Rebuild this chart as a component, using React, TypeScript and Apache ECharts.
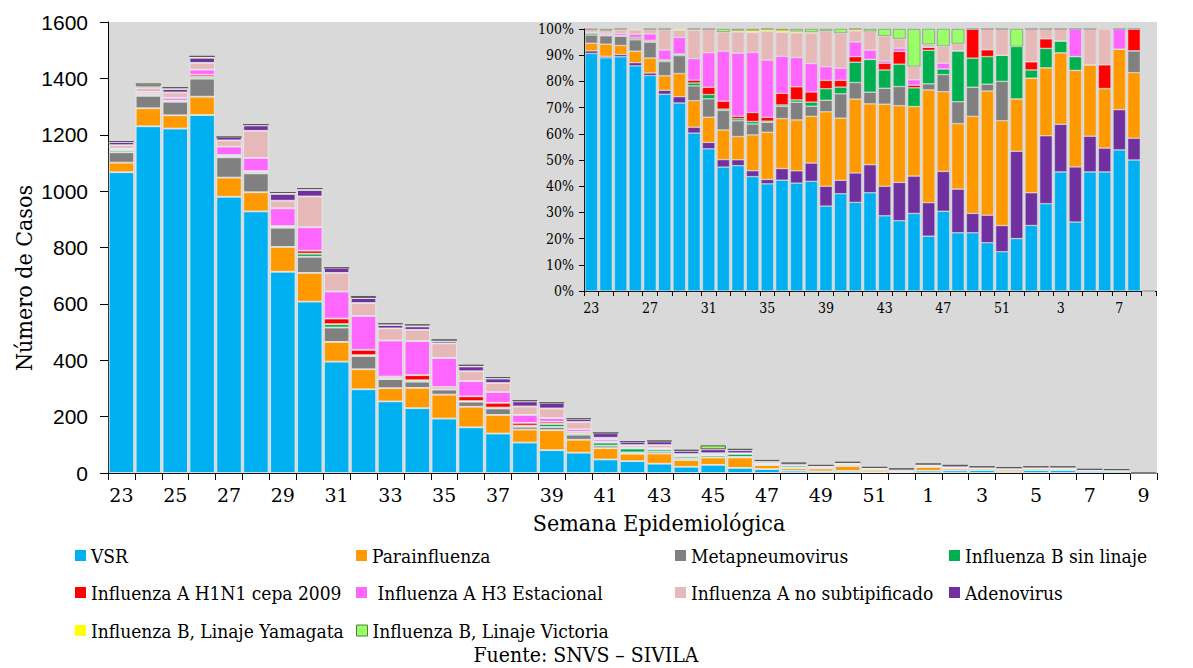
import React, { useEffect, useRef } from "react";
import * as echarts from "echarts";

const weeks = [
  "23", "24", "25", "26", "27", "28", "29", "30", "31", "32", "33", "34", "35", "36", "37",
  "38", "39", "40", "41", "42", "43", "44", "45", "46", "47", "48", "49", "50", "51", "52",
  "1", "2", "3", "4", "5", "6", "7", "8", "9",
];

const vsr = [1067, 1230, 1222, 1270, 980, 928, 714, 608, 395, 297, 254, 230, 193, 162, 140, 108, 81, 72, 48, 42, 33, 22, 29, 18, 14, 8, 6, 7, 3, 3, 8, 9, 10, 5, 10, 10, 7, 6, 0];
const parainfluenza = [34, 64, 47, 65, 68, 68, 88, 102, 70, 71, 47, 72, 85, 73, 66, 46, 71, 46, 40, 26, 36, 24, 26, 37, 14, 9, 10, 18, 8, 3, 14, 7, 6, 7, 6, 5, 3, 3, 0];
const metapneumovirus = [37, 44, 48, 64, 72, 67, 68, 57, 51, 47, 32, 22, 18, 18, 23, 10, 11, 18, 9, 5, 7, 6, 0, 2, 3, 3, 3, 1, 3, 0, 0, 0, 0, 0, 0, 0, 0, 1, 0];
const fluBSinLinaje = [7, 4, 4, 6, 4, 5, 4, 11, 12, 3, 4, 5, 2, 2, 3, 4, 11, 5, 11, 14, 8, 7, 7, 11, 1, 7, 3, 4, 2, 3, 1, 2, 1, 1, 0, 0, 0, 0, 0];
const fluAH1N1 = [4, 4, 0, 8, 4, 3, 2, 11, 20, 19, 5, 18, 7, 17, 17, 10, 8, 5, 3, 0, 3, 4, 1, 1, 0, 0, 3, 1, 0, 0, 1, 1, 0, 0, 0, 2, 0, 1, 0];
const fluAH3 = [2, 6, 10, 18, 30, 47, 63, 83, 96, 120, 128, 121, 103, 54, 38, 28, 13, 9, 8, 4, 1, 1, 2, 0, 1, 0, 0, 0, 0, 0, 0, 0, 0, 2, 0, 0, 1, 0, 0];
const fluANoSubtip = [12, 14, 19, 24, 22, 96, 27, 109, 66, 46, 43, 40, 52, 35, 32, 30, 34, 26, 6, 8, 11, 3, 5, 1, 3, 1, 0, 3, 2, 0, 4, 1, 1, 0, 3, 3, 0, 0, 0];
const adenovirus = [12, 8, 12, 18, 12, 19, 24, 23, 18, 18, 12, 12, 8, 17, 16, 18, 19, 10, 16, 12, 13, 12, 14, 11, 7, 6, 2, 4, 2, 5, 4, 7, 4, 4, 3, 2, 2, 1, 0];
const yamagata = [0, 0, 5, 5, 0, 3, 5, 5, 0, 0, 3, 4, 4, 3, 2, 1, 0, 0, 1, 0, 0, 0, 0, 0, 0, 0, 0, 0, 0, 0, 0, 0, 0, 0, 0, 0, 0, 0, 0];
const victoria = [2, 8, 0, 0, 0, 0, 0, 0, 0, 7, 3, 3, 0, 2, 3, 3, 2, 3, 0, 1, 3, 3, 14, 5, 3, 2, 0, 0, 0, 1, 0, 0, 0, 0, 0, 0, 0, 0, 0];

const seriesNames = [
  "VSR",
  "Parainfluenza",
  "Metapneumovirus",
  "Influenza B sin linaje",
  "Influenza A H1N1 cepa 2009",
  "Influenza A H3 Estacional",
  "Influenza A no subtipificado",
  "Adenovirus",
  "Influenza B, Linaje Yamagata",
  "Influenza B, Linaje Victoria",
];
const seriesValues = [vsr, parainfluenza, metapneumovirus, fluBSinLinaje, fluAH1N1, fluAH3, fluANoSubtip, adenovirus, yamagata, victoria];
const seriesColors = ["#00b0f0", "#ff9900", "#808080", "#00b050", "#ff0000", "#ff66ff", "#e6b9b8", "#7030a0", "#ffff00", "#99ff66"];

// stacking order in the percentage inset (bottom to top)
const insetOrder = [0, 7, 1, 2, 3, 4, 5, 6, 8, 9];

const percentTicks = [0, 10, 20, 30, 40, 50, 60, 70, 80, 90, 100];

const SERIF = "'DejaVu Serif Condensed', 'DejaVu Serif', serif";

export default function App() {
  const ref = useRef<HTMLDivElement>(null);

  useEffect(() => {
    document.body.style.margin = "0";
    if (!ref.current) return;
    const chart = echarts.init(ref.current, undefined, { renderer: "svg" });

    const totals = weeks.map((_, i) => seriesValues.reduce((s, arr) => s + arr[i], 0));
    const VICTORIA = 9;

    const mainSeries = seriesValues.map((vals, k) => ({
      name: seriesNames[k],
      type: "bar",
      stack: "main",
      xAxisIndex: 0,
      yAxisIndex: 0,
      barCategoryGap: "6%",
      data: vals,
      itemStyle: {
        color: seriesColors[k],
        borderColor: k === VICTORIA ? "#595959" : "#ececec",
        borderWidth: k === VICTORIA ? 1 : 0.8,
      },
    }));

    const insetSeries = insetOrder.map((k) => ({
      name: seriesNames[k],
      type: "bar",
      stack: "pct",
      xAxisIndex: 1,
      yAxisIndex: 1,
      barCategoryGap: "14%",
      data: seriesValues[k].map((v, i) => (totals[i] > 0 ? (v / totals[i]) * 100 : 0)),
      itemStyle: {
        color: seriesColors[k],
        borderColor: k === VICTORIA ? "#7f7f7f" : "#e6e6e6",
        borderWidth: k === VICTORIA ? 0.6 : 0.5,
      },
    }));

    const legendPos: [number, number][] = [
      [75, 546], [356, 546], [675, 546], [949, 546],
      [75, 583], [356, 583], [675, 583], [949, 583],
      [75, 621], [356, 621],
    ];
    const legends = seriesNames.map((name, k) => ({
      left: legendPos[k][0],
      top: legendPos[k][1],
      padding: 0,
      itemGap: 0,
      icon: "rect",
      itemWidth: 11,
      itemHeight: 11,
      selectedMode: false,
      data: [name],
      formatter: k === 5 ? " {name}" : "{name}",
      itemStyle: k === VICTORIA ? { borderColor: "#4f7f3a", borderWidth: 1 } : { borderWidth: 0 },
      textStyle: { fontFamily: SERIF, fontSize: 19, color: "#000" },
    }));

    const axisLineStyle = { lineStyle: { color: "#000", width: 1 } };

    chart.setOption({
      animation: false,
      backgroundColor: "#ffffff",
      legend: legends,
      grid: [
        { left: 108, right: 36, top: 22, bottom: 195, show: true, backgroundColor: "#d9d9d9", borderWidth: 0, containLabel: false },
        { left: 584, right: 37, top: 29, bottom: 377, show: false, containLabel: false },
      ],
      xAxis: [
        {
          type: "category",
          gridIndex: 0,
          data: weeks,
          axisLine: axisLineStyle,
          axisTick: { show: true, interval: 0, length: 7, lineStyle: { color: "#000" } },
          axisLabel: { interval: 1, margin: 12, fontFamily: "'DejaVu Serif', serif", fontSize: 19, color: "#000" },
        },
        {
          type: "category",
          gridIndex: 1,
          data: weeks,
          axisLine: axisLineStyle,
          axisTick: { show: true, interval: 0, length: 5, lineStyle: { color: "#000" } },
          axisLabel: { interval: 3, margin: 10, fontFamily: SERIF, fontSize: 14, color: "#000" },
        },
      ],
      yAxis: [
        {
          type: "value",
          gridIndex: 0,
          min: 0,
          max: 1600,
          interval: 200,
          axisLine: { show: true, ...axisLineStyle },
          axisTick: { show: true, length: 8, lineStyle: { color: "#000" } },
          splitLine: { show: false },
          axisLabel: {
            margin: 20,
            formatter: (v: number) => String(v),
            fontFamily: "'Liberation Sans', Arial, sans-serif",
            fontSize: 21,
            color: "#000",
          },
        },
        {
          type: "value",
          gridIndex: 1,
          min: percentTicks[0],
          max: percentTicks[percentTicks.length - 1],
          interval: 10,
          axisLine: { show: true, ...axisLineStyle },
          axisTick: { show: true, length: 5, lineStyle: { color: "#000" } },
          splitLine: { show: false },
          axisLabel: { margin: 10, formatter: "{value}%", fontFamily: SERIF, fontSize: 14, color: "#000" },
        },
      ],
      graphic: [
        {
          type: "text",
          x: 24,
          y: 278,
          rotation: Math.PI / 2,
          style: { text: "Número de Casos", fontFamily: SERIF, fontSize: 23, fill: "#000", align: "center", verticalAlign: "middle" },
        },
        {
          type: "text",
          x: 659,
          y: 523,
          style: { text: "Semana Epidemiológica", fontFamily: SERIF, fontSize: 23, fill: "#000", align: "center", verticalAlign: "middle" },
        },
        {
          type: "text",
          x: 586,
          y: 655,
          style: { text: "Fuente: SNVS – SIVILA", fontFamily: SERIF, fontSize: 21, fill: "#000", align: "center", verticalAlign: "middle" },
        },
      ],
      series: [...mainSeries, ...insetSeries],
    });

    return () => chart.dispose();
  }, []);

  return (
    <div
      ref={ref}
      style={{ position: "absolute", left: 0, top: 0, width: 1193, height: 668 }}
    />
  );
}
